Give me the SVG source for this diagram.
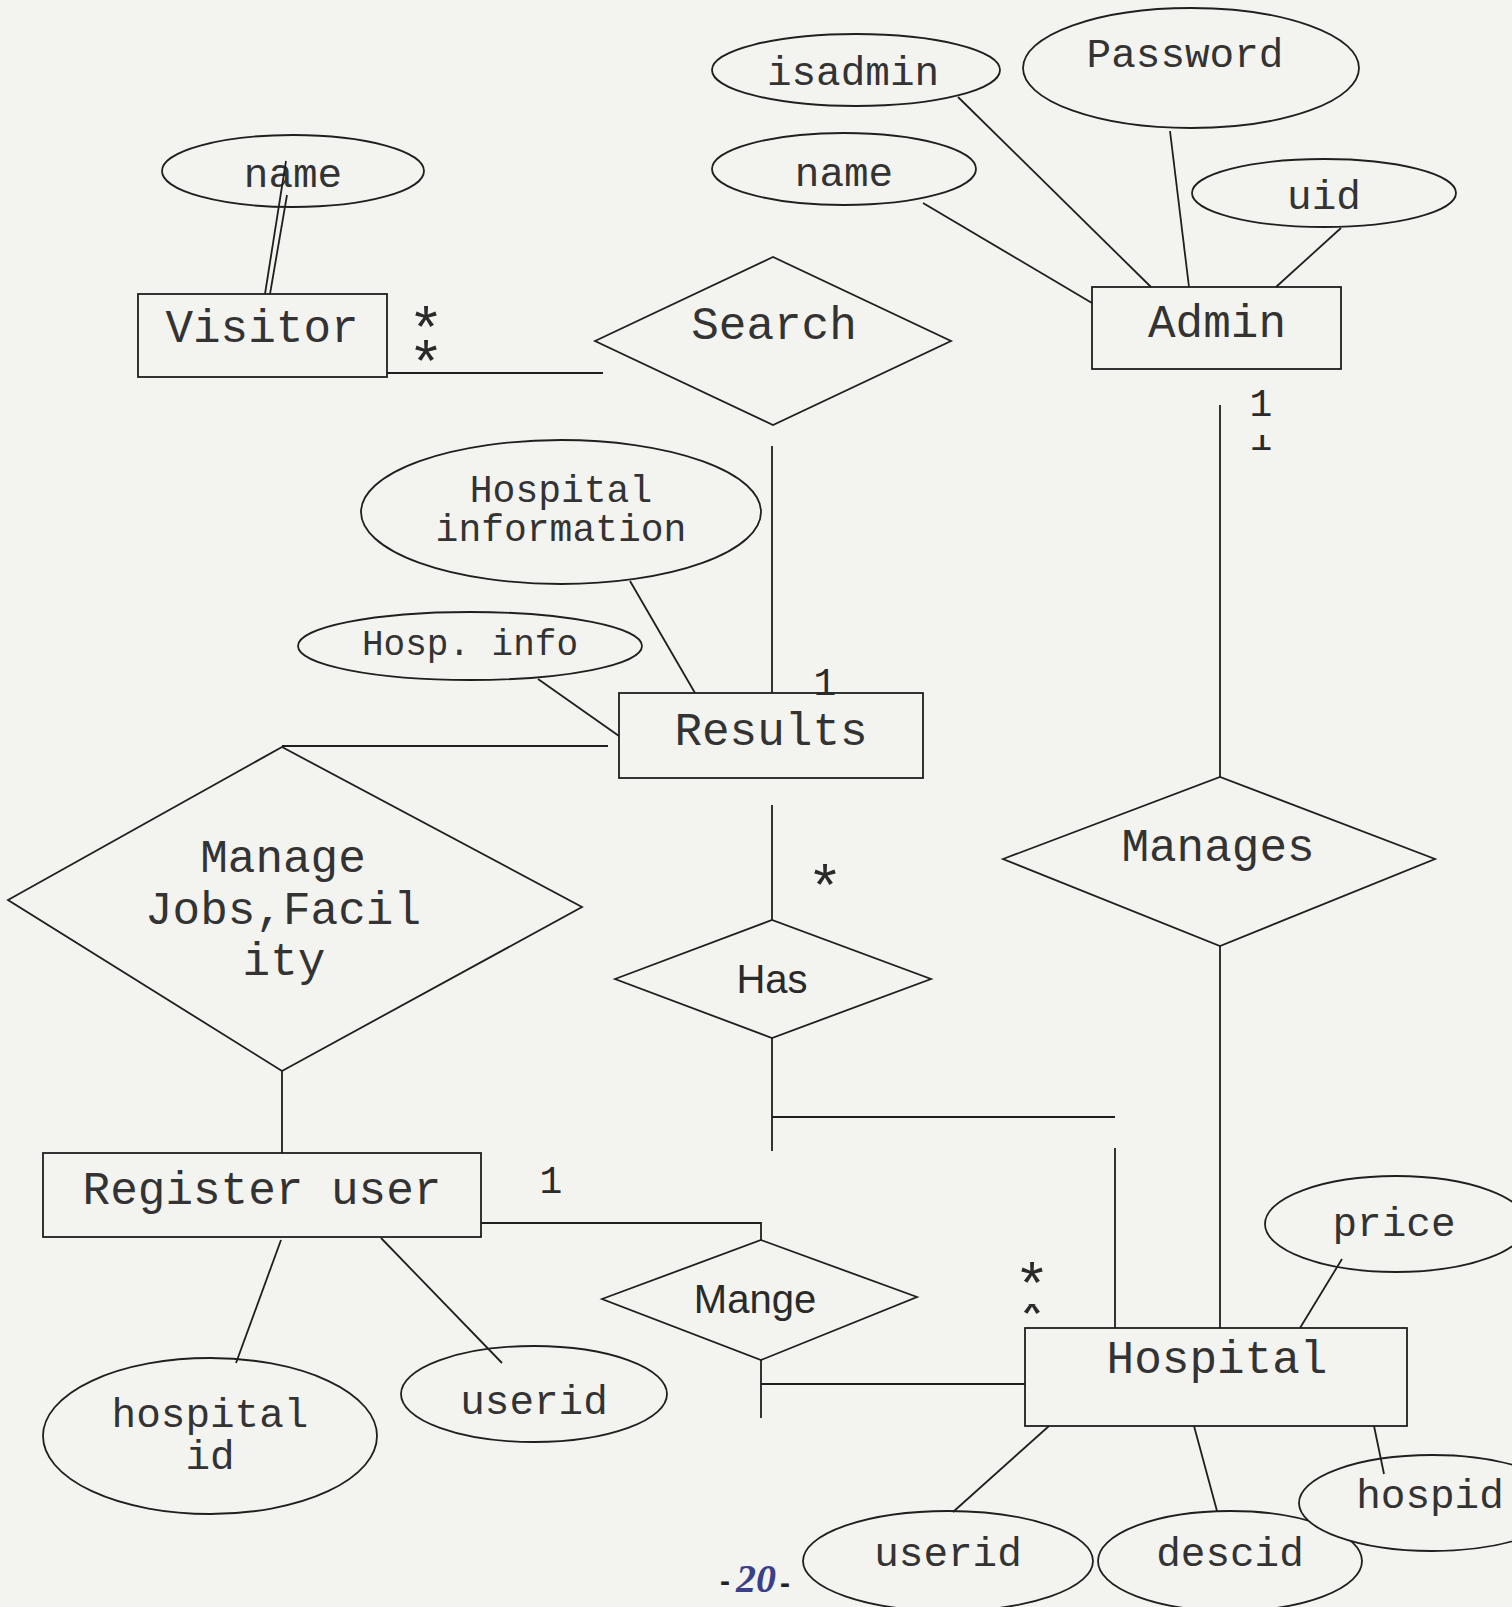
<svg xmlns="http://www.w3.org/2000/svg" width="1512" height="1607" viewBox="0 0 1512 1607">
<defs>
<style>
.sh{fill:none;stroke:#1f1f1f;stroke-width:1.8}
.fb{fill:#f3f3f0;stroke:#1f1f1f;stroke-width:1.8}
.ln{fill:none;stroke:#1f1f1f;stroke-width:1.8}
.t{font-family:"Liberation Mono","Courier New",monospace;fill:#333;text-anchor:middle}
.e{font-size:46px}
.a{font-size:41px}
.s{font-family:"Liberation Sans",Arial,sans-serif;fill:#2a2a2a;text-anchor:middle;font-size:40px}
.c{font-family:"Liberation Mono","Courier New",monospace;fill:#2a2a2a;text-anchor:middle;font-size:38px}
.st{font-family:"Liberation Mono","Courier New",monospace;fill:#2a2a2a;text-anchor:middle;font-size:60px}
</style>
<clipPath id="cpOne"><rect x="1240" y="380" width="40" height="40"/><rect x="1240" y="435" width="40" height="20"/></clipPath>
<clipPath id="cpStar"><rect x="1010" y="1255" width="45" height="35"/><rect x="1010" y="1304" width="45" height="16"/></clipPath>
</defs>
<rect x="0" y="0" width="1512" height="1607" fill="#f3f3f0"/>

<g id="visitor-name"><ellipse class="sh" cx="293" cy="171" rx="131" ry="36"/><text class="t a" x="293" y="187">name</text></g>
<g id="visitor"><rect class="sh" x="138" y="294" width="249" height="83"/><text class="t e" x="262" y="342">Visitor</text></g>
<g id="search"><polygon class="sh" points="595,341 773,257 951,341 773,425"/><text class="t e" x="774" y="339">Search</text></g>
<g id="isadmin"><ellipse class="sh" cx="856" cy="70" rx="144" ry="36"/><text class="t a" x="853" y="85">isadmin</text></g>
<g id="password"><ellipse class="sh" cx="1191" cy="68" rx="168" ry="60"/><text class="t a" x="1185" y="67">Password</text></g>
<g id="admin-name"><ellipse class="sh" cx="844" cy="169" rx="132" ry="36"/><text class="t a" x="844" y="186">name</text></g>
<g id="uid"><ellipse class="sh" cx="1324" cy="193" rx="132" ry="34"/><text class="t a" x="1324" y="209">uid</text></g>
<g id="admin"><rect class="sh" x="1092" y="287" width="249" height="82"/><text class="t e" x="1217" y="337">Admin</text></g>
<g id="hospital-information"><ellipse class="sh" cx="561" cy="512" rx="200" ry="72"/><text class="t" style="font-size:38px" x="561" y="502">Hospital</text><text class="t" style="font-size:38px" x="561" y="541">information</text></g>
<g id="hosp-info"><ellipse class="sh" cx="470" cy="646" rx="172" ry="34"/><text class="t" style="font-size:36px" x="470" y="655">Hosp. info</text></g>
<g id="results"><rect class="sh" x="619" y="693" width="304" height="85"/><text class="t e" x="771" y="745">Results</text></g>
<g id="manages"><polygon class="sh" points="1003,859 1220,777 1435,859 1220,946"/><text class="t e" x="1218" y="861">Manages</text></g>
<g id="manage-jobs"><polygon class="sh" points="8,900 282,747 582,907 282,1071"/><text class="t e" x="283" y="872">Manage</text><text class="t e" x="283" y="924">Jobs,Facil</text><text class="t e" x="284" y="975">ity</text></g>
<g id="has"><polygon class="sh" points="615,979 772,920 931,979 772,1038"/><text class="s" x="772" y="993">Has</text></g>
<g id="register-user"><rect class="sh" x="43" y="1153" width="438" height="84"/><text class="t e" x="262" y="1204">Register user</text></g>
<g id="mange"><polygon class="sh" points="602,1299 761,1240 917,1297 761,1360"/><text class="s" x="755" y="1313">Mange</text></g>
<g id="hospital"><rect class="sh" x="1025" y="1328" width="382" height="98"/><text class="t e" x="1217" y="1373">Hospital</text></g>
<g id="hospital-id"><ellipse class="sh" cx="210" cy="1436" rx="167" ry="78"/><text class="t a" x="210" y="1427">hospital</text><text class="t a" x="210" y="1469">id</text></g>
<g id="reg-userid"><ellipse class="sh" cx="534" cy="1394" rx="133" ry="48"/><text class="t a" x="534" y="1414">userid</text></g>
<g id="price"><ellipse class="sh" cx="1396" cy="1224" rx="131" ry="48"/><text class="t a" x="1394" y="1236">price</text></g>
<g id="hosp-userid"><ellipse class="sh" cx="948" cy="1561" rx="145" ry="50"/><text class="t a" x="948" y="1566">userid</text></g>
<g id="descid"><ellipse class="sh" cx="1230" cy="1561" rx="132" ry="50"/><text class="t a" x="1230" y="1566">descid</text></g>
<g id="hospid"><ellipse class="fb" cx="1432" cy="1503" rx="133" ry="48"/><text class="t a" x="1430" y="1508">hospid</text></g>

<g id="connectors">
<line class="ln" x1="286" y1="161" x2="265" y2="294"/>
<line class="ln" x1="287" y1="195" x2="270" y2="294"/>
<line class="ln" x1="387" y1="373" x2="603" y2="373"/>
<line class="ln" x1="772" y1="446" x2="772" y2="693"/>
<line class="ln" x1="958" y1="97" x2="1151" y2="287"/>
<line class="ln" x1="1170" y1="131" x2="1189" y2="287"/>
<line class="ln" x1="923" y1="203" x2="1092" y2="303"/>
<line class="ln" x1="1341" y1="228" x2="1276" y2="287"/>
<line class="ln" x1="1220" y1="405" x2="1220" y2="777"/>
<line class="ln" x1="1220" y1="946" x2="1220" y2="1328"/>
<line class="ln" x1="630" y1="581" x2="695" y2="693"/>
<line class="ln" x1="538" y1="679" x2="619" y2="736"/>
<line class="ln" x1="282" y1="746" x2="608" y2="746"/>
<line class="ln" x1="772" y1="805" x2="772" y2="920"/>
<line class="ln" x1="772" y1="1038" x2="772" y2="1151"/>
<line class="ln" x1="772" y1="1117" x2="1115" y2="1117"/>
<line class="ln" x1="1115" y1="1148" x2="1115" y2="1328"/>
<line class="ln" x1="282" y1="1071" x2="282" y2="1153"/>
<polyline class="ln" points="481,1223 761,1223 761,1240"/>
<line class="ln" x1="761" y1="1360" x2="761" y2="1418"/>
<line class="ln" x1="761" y1="1384" x2="1025" y2="1384"/>
<line class="ln" x1="281" y1="1240" x2="236" y2="1363"/>
<line class="ln" x1="381" y1="1238" x2="502" y2="1363"/>
<line class="ln" x1="1342" y1="1259" x2="1300" y2="1328"/>
<line class="ln" x1="1374" y1="1426" x2="1384" y2="1474"/>
<line class="ln" x1="1194" y1="1426" x2="1217" y2="1511"/>
<line class="ln" x1="1049" y1="1426" x2="953" y2="1512"/>
</g>

<g id="labels">
<text class="st"><tspan x="426" y="349">*</tspan><tspan x="426" y="383">*</tspan></text>
<text class="c" clip-path="url(#cpOne)"><tspan x="1261" y="416">1</tspan><tspan x="1261" y="450">1</tspan></text>
<text class="c" x="825" y="695">1</text>
<text class="st" x="825" y="907">*</text>
<text class="c" x="551" y="1193">1</text>
<text class="st" clip-path="url(#cpStar)"><tspan x="1032" y="1305">*</tspan><tspan x="1032" y="1336">*</tspan></text>
<text x="725" y="1591" font-family="Liberation Sans,Arial,sans-serif" font-size="30" font-weight="bold" fill="#222" text-anchor="middle">-</text>
<text x="756" y="1592" font-family="Liberation Serif,serif" font-size="40" font-weight="bold" font-style="italic" fill="#3b3f8a" text-anchor="middle">20</text>
<text x="785" y="1593" font-family="Liberation Sans,Arial,sans-serif" font-size="30" font-weight="bold" fill="#222" text-anchor="middle">-</text>
</g>
</svg>
